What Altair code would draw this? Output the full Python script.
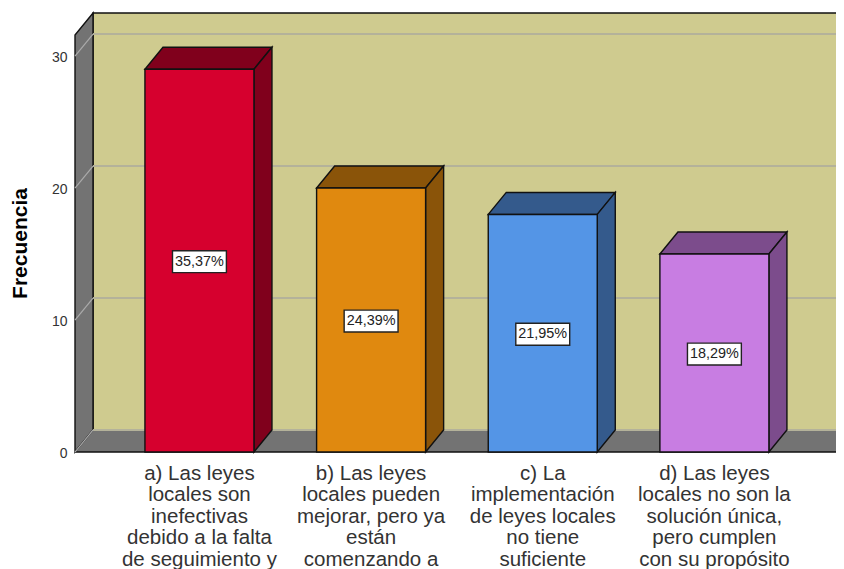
import altair as alt
import pandas as pd

categories = [
    "a) Las leyes\nlocales son\ninefectivas\ndebido a la falta\nde seguimiento y",
    "b) Las leyes\nlocales pueden\nmejorar, pero ya\nestán\ncomenzando a",
    "c) La\nimplementación\nde leyes locales\nno tiene\nsuficiente",
    "d) Las leyes\nlocales no son la\nsolución única,\npero cumplen\ncon su propósito",
]
frequencies = [29, 20, 18, 15]
percent_labels = ["35,37%", "24,39%", "21,95%", "18,29%"]
front_colors = ["#D6002E", "#E0890F", "#5495E6", "#C87DE2"]
shade_colors = ["#80001C", "#8A5409", "#345A8C", "#7C4C8C"]
y_ticks = [0, 10, 20, 30]

FONT = "Liberation Sans"
X0, XMAX = 0.275, 4.7084
XEND = 4.83
YMIN, YMAX = -8.864, 33.64
WALL_TOP = 33.26
DX, DY = 0.105, 1.667
HALF_BAR = 0.3175
BOX_W, BOX_H = 0.157, 0.83
BOX_SHIFT = 0.08
LABEL_Y = -0.9
WALL = "#737373"
BACK = "#CFCB8F"

xs = alt.Scale(domain=[X0, XMAX], nice=False, zero=False)
ys = alt.Scale(domain=[YMIN, YMAX], nice=False, zero=False)

y_axis = alt.Axis(
    values=y_ticks,
    title="Frecuencia",
    titleFont=FONT,
    titleFontSize=21,
    titleFontWeight="bold",
    titleColor="#000000",
    titleX=-45,
    titleY=235,
    labelFont=FONT,
    labelFontSize=14,
    labelColor="#333333",
    labelPadding=8,
    labelOffset=1.5,
    domain=False,
    ticks=False,
    grid=False,
)


def X(f="x"):
    return alt.X(f"{f}:Q", scale=xs, axis=None)


def Y(f="y"):
    return alt.Y(f"{f}:Q", scale=ys, axis=y_axis)


def area(rows, fill, clip=False):
    df = pd.DataFrame(rows, columns=["x", "y", "y2"])
    return alt.Chart(df).mark_area(
        color=fill, stroke="#111111", strokeWidth=1.4, clip=clip, interpolate="linear"
    ).encode(x=X(), y=Y(), y2="y2:Q")


back = alt.Chart(pd.DataFrame([{"x": X0 + DX, "x2": XEND, "y": DY, "y2": WALL_TOP}])).mark_rect(
    color=BACK, stroke="#111111", strokeWidth=1.4, clip=True
).encode(x=X(), x2="x2:Q", y=Y(), y2="y2:Q")

left_wall = area([(X0, 0, WALL_TOP - DY), (X0 + DX, DY, WALL_TOP)], WALL)
floor = area(
    [(X0, 0, 0), (X0 + DX, 0, DY), (XEND - DX, 0, DY), (XEND, DY, DY)], WALL, clip=True
)

grid_back = []
grid_side = []
for v in y_ticks:
    grid_back += [{"x": X0 + DX, "y": v + DY, "t": v}, {"x": XEND, "y": v + DY, "t": v}]
    grid_side += [{"x": X0, "y": v, "t": v}, {"x": X0 + DX, "y": v + DY, "t": v}]

grid_b = alt.Chart(pd.DataFrame(grid_back)).mark_line(
    color="#B4B29A", strokeWidth=2, clip=True
).encode(x=X(), y=Y(), detail="t:N")
grid_s = alt.Chart(pd.DataFrame(grid_side)).mark_line(
    color="#ABABAB", strokeWidth=1.2
).encode(x=X(), y=Y(), detail="t:N")

layers = [back, left_wall, floor, grid_b, grid_s]

for i, (v, fc, sc) in enumerate(zip(frequencies, front_colors, shade_colors)):
    c = i + 1
    l, r = c - HALF_BAR, c + HALF_BAR
    mid = v / 2 - BOX_SHIFT
    layers.append(area([(l, v, v), (l + DX, v + DY, v), (r, v + DY, v), (r + DX, v + DY, v + DY)], sc))
    layers.append(area([(r, 0, v), (r + DX, DY, v + DY)], sc))
    front = pd.DataFrame([{"x": l, "x2": r, "y": 0, "y2": v}])
    layers.append(
        alt.Chart(front).mark_rect(color=fc, stroke="#111111", strokeWidth=1.4).encode(
            x=X(), x2="x2:Q", y=Y(), y2="y2:Q"
        )
    )
    box = pd.DataFrame(
        [{"x": c - BOX_W, "x2": c + BOX_W, "y": mid - BOX_H, "y2": mid + BOX_H}]
    )
    layers.append(
        alt.Chart(box).mark_rect(color="#FFFFFF", stroke="#222222", strokeWidth=1.4).encode(
            x=X(), x2="x2:Q", y=Y(), y2="y2:Q"
        )
    )
    txt = pd.DataFrame([{"x": c, "y": mid, "t": percent_labels[i]}])
    layers.append(
        alt.Chart(txt).mark_text(font=FONT, fontSize=14.4, color="#222222").encode(
            x=X(), y=Y(), text="t:N"
        )
    )
    lab = pd.DataFrame([{"x": c, "y": LABEL_Y, "t": categories[i]}])
    layers.append(
        alt.Chart(lab).mark_text(
            font=FONT, fontSize=20.5, color="#333333", baseline="top", align="center",
            lineBreak="\n", lineHeight=21.5,
        ).encode(x=X(), y=Y(), text="t:N")
    )

chart = (
    alt.layer(*layers)
    .properties(
        width=761,
        height=561,
        autosize=alt.AutoSizeParams(type="none"),
        padding={"left": 67, "top": 0, "right": 0, "bottom": 0},
        background="#FFFFFF",
    )
    .configure_view(stroke=None)
)

chart.save("out.html", embed_options={"renderer": "svg", "actions": False})
